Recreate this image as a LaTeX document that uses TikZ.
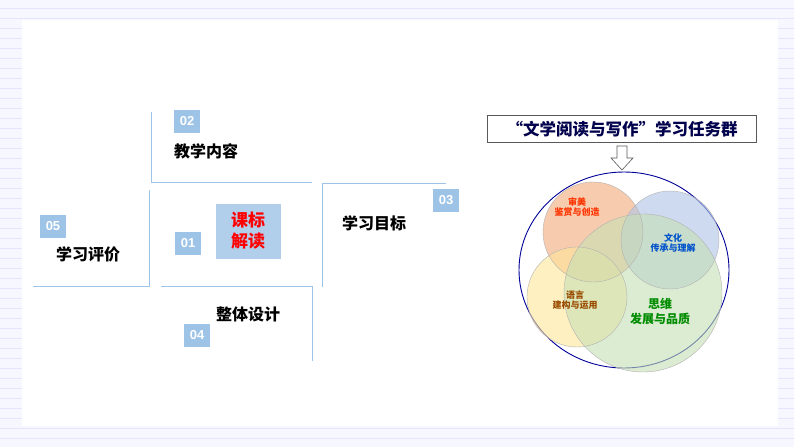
\documentclass[tikz,border=0pt]{standalone}
\usepackage{fontspec}
\newfontfamily\cjk{Noto Sans CJK SC}
\newfontfamily\arl{Liberation Sans}
\definecolor{numc}{HTML}{9DC3E6}
\definecolor{lnc}{HTML}{9DC3E6}
\definecolor{cs}{HTML}{F4B183}
\definecolor{cb}{HTML}{B4C7E7}
\definecolor{cy}{HTML}{FFE699}
\definecolor{cg}{HTML}{C5E0B4}
\begin{document}
\begin{tikzpicture}[x=1pt,y=-1pt,
  ln/.style={draw=lnc,line width=0.9pt},
  num/.style={fill=numc,text=white,font=\arl\bfseries\fontsize{13}{13}\selectfont,minimum width=26pt,minimum height=23pt,inner sep=0pt},
  lab/.style={font=\cjk\bfseries\fontsize{16}{16}\selectfont,anchor=west,inner sep=0pt},
  vt/.style={font=\cjk\bfseries\fontsize{9}{10}\selectfont,align=center,inner sep=0pt}]
\useasboundingbox (0,0) rectangle (794,447);
\fill[blue!3] (0,0) rectangle (794,447);
\foreach \y in {8,18,...,440} \draw[blue!10,line width=0.5pt] (0,\y) -- (794,\y);
\fill[white] (22,20) rectangle (778,426);
% left structure
\draw[ln] (151,112) -- (151,182) -- (312,182);
\draw[ln] (446,183) -- (322,183) -- (322,287);
\draw[ln] (149,190) -- (149,286) -- (33,286);
\draw[ln] (161,286) -- (312,286) -- (312,361);
\node[num] (n02) at (187,121) {02};
\node[lab] (t02) at (174,151) {教学内容};
\node[num] (n03) at (446,200) {03};
\node[lab] (t03) at (342,223) {学习目标};
\node[num] (n05) at (53,226) {05};
\node[lab] (t05) at (56,254) {学习评价};
\node[num] (n01) at (188,243) {01};
\node[fill=numc!80,text=red,font=\cjk\bfseries\fontsize{17}{21}\selectfont,align=center,minimum width=65pt,minimum height=55pt,inner sep=0pt] (t01) at (248,231) {课标\\解读};
\node[lab] (t04) at (216,314) {整体设计};
\node[num] (n04) at (197,335) {04};
% right
\node[draw=gray!70!black,line width=0.8pt,minimum width=269pt,minimum height=27pt,inner sep=0pt,font=\cjk\bfseries\fontsize{16.5}{16}\selectfont,text=blue!30!black] (title) at (622,129) {“文学阅读与写作”学习任务群};
\draw[gray!70!black,line width=0.6pt,fill=white] (617,146) -- (627,146) -- (627,158) -- (633,158) -- (622,170) -- (611,158) -- (617,158) -- cycle;
\draw[blue!60!black,line width=0.9pt] (624,270) ellipse [x radius=105, y radius=98];
\fill[cs,fill opacity=0.65] (593,232) circle (50);
\fill[cb,fill opacity=0.65] (670,240) circle (49);
\fill[cy,fill opacity=0.6] (577,297) circle (50);
\fill[cg,fill opacity=0.6] (643,293) circle (79);
\draw[gray!60] (593,232) circle (50) (670,240) circle (49) (577,297) circle (50) (643,293) circle (79);
\node[vt,text=red!60!orange] (v1) at (577,207) {审美\\鉴赏与创造};
\node[vt,text=blue!60!cyan!80!black] (v2) at (673,243) {文化\\传承与理解};
\node[vt,text=orange!60!black] (v3) at (575,300) {语言\\建构与运用};
\node[font=\cjk\bfseries\fontsize{12}{15}\selectfont,align=center,inner sep=0pt,text=green!55!black] (v4) at (660,311) {思维\\发展与品质};
\end{tikzpicture}
\end{document}
